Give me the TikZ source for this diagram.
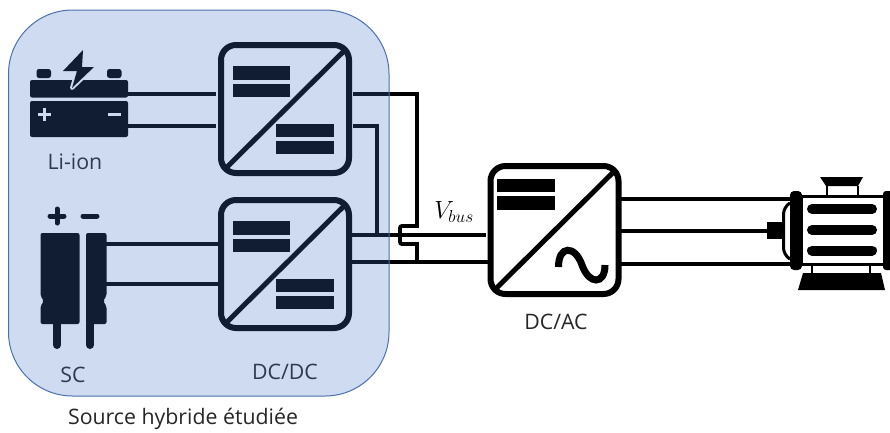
\documentclass[tikz,border=0pt]{standalone}
\usepackage{fontspec}
\setmainfont{Open Sans}
\usepackage{amsmath}
\usepackage{xcolor}
\usepackage{tikz}
\usetikzlibrary{calc}
\definecolor{bleuSource}{HTML}{4472C4}
\definecolor{bordSource}{HTML}{4A70AE}
\tikzset{
	wire/.style={line width=3.8pt},
	conv/.style={draw,line width=6pt,rounded corners=15pt,minimum size=128pt,inner sep=0pt},
	txt/.style={inner sep=0pt,text=black!85,font=\fontsize{21.3}{24}\selectfont}
}

\begin{document}
\begin{tikzpicture}[x=1pt,y=-1pt]
	
	\useasboundingbox (0,0) rectangle (890,432);
	
	%Convertisseurs DC/DC
	\foreach \nom/\yc in {convA/109,convB/264} {
		\begin{scope}[shift={(285,\yc)}]
			\node[conv] (\nom) at (0,0) {};
			\draw[line width=5pt] (-61,61) -- (61,-60);
			\fill (-52,-43) rectangle (5,-29.5);
			\fill (-52,-25.5) rectangle (5,-12);
			\fill (-9,14.5) rectangle (48.5,28);
			\fill (-9,32) rectangle (48.5,45);
		\end{scope}
	}
	
	%Convertisseur DC/AC
	\node[conv] (convC) at (554.5,230) {};
	\draw[line width=5pt] ($(convC)+(-61,61)$) -- ($(convC)+(61,-60)$);
	\fill (497,179) rectangle (555,192);
	\fill (497,196) rectangle (555,210);
	\draw[line width=7pt] (558.5,267) .. controls (558.5,245) and (575,245) .. (582,265) .. controls (589,285) and (605,285) .. (605,265);
	
	%Batterie
	\node[inner sep=0pt,minimum width=98pt,minimum height=57pt] (batt) at (79,108.5) {};
	\fill[rounded corners=2pt] (30,97.5) -- (30,80) -- (128,80) -- (128,97.5) -- cycle;
	\fill[rounded corners=2pt] (30,101) -- (128,101) -- (128,137) -- (30,137) -- cycle;
	\fill[rounded corners=2.5pt] (36.5,78) -- (36.5,69) -- (51,69) -- (51,78) -- cycle;
	\fill[rounded corners=2.5pt] (107,78) -- (107,69) -- (121.5,69) -- (121.5,78) -- cycle;
	\draw[white,line width=4pt,line join=round] (83,50) -- (63,71) -- (77,71) -- (72,88) -- (94,67) -- (82,67) -- cycle;
	\fill (83,50) -- (63,71) -- (77,71) -- (72,88) -- (94,67) -- (82,67) -- cycle;
	\draw[white,line width=3pt] (37.5,114) -- (50.5,114);
	\draw[white,line width=3pt] (44,107.5) -- (44,120.5);
	\draw[white,line width=3pt] (108,114) -- (121,114);
	
	%Supercondensateur
	\node[inner sep=0pt,minimum width=66pt,minimum height=91pt] (sc) at (73,278.5) {};
	\fill[rounded corners=2pt] (79.5,233) -- (40.5,233) -- (40.5,296) -- (44,301) -- (40.5,306) -- (40.5,324) -- (79.5,324) -- cycle;
	\fill[rounded corners=2pt] (86,233) -- (106.5,233) -- (106.5,296) -- (103,301) -- (106.5,306) -- (106.5,324) -- (86,324) -- cycle;
	\draw[line width=8pt,line cap=round] (57,324) -- (57,345);
	\draw[line width=8pt,line cap=round] (90,324) -- (90,345);
	\draw[line width=5pt,line cap=round] (50,216) -- (64,216);
	\draw[line width=5pt,line cap=round] (57,209) -- (57,223);
	\draw[line width=5pt,line cap=round] (83,216) -- (97,216);
	
	%Moteur
	\node[inner sep=0pt,minimum width=83pt,minimum height=70pt] (mot) at (842.5,230) {};
	\draw[line width=3pt] (801,196) rectangle (885,264);
	\foreach \yb in {209,230,250.5} {
		\draw[line width=10pt,line cap=round] (812,\yb) -- (872,\yb);
	}
	\fill[rounded corners=4pt] (790,270) -- (790,191) -- (802,191) -- (802,270) -- cycle;
	\fill[rounded corners=3pt] (883,270) -- (883,191) -- (895,191) -- (895,270) -- cycle;
	\fill (820,177) -- (863,177) -- (858,186) -- (826,186) -- cycle;
	\draw[line width=2.5pt] (827,186) -- (827,195);
	\draw[line width=2.5pt] (858,186) -- (858,195);
	\draw[line width=2.5pt] (812,265) -- (812,274);
	\draw[line width=2.5pt] (870,265) -- (870,274);
	\fill (803,273) -- (881,273) -- (885,290) -- (798,290) -- cycle;
	\draw[line width=3pt,rounded corners=7pt] (790,203) -- (783.5,207) -- (783.5,255) -- (790,259);
	\fill (767,222) rectangle (782,239);
	
	%Points de connexion
	\coordinate (battP) at (128,94);
	\coordinate (battM) at (128,126);
	\coordinate (scP) at (106,244);
	\coordinate (scM) at (106,284);
	\coordinate (aE1) at (216,94);
	\coordinate (aE2) at (216,126);
	\coordinate (bE1) at (218,244);
	\coordinate (bE2) at (218,284);
	\coordinate (aS1) at (353,94);
	\coordinate (aS2) at (353,126);
	\coordinate (bS1) at (352,235);
	\coordinate (bS2) at (352,262);
	\coordinate (cE1) at (486,235);
	\coordinate (cE2) at (488,262);
	\coordinate (coin1) at (417,94);
	\coordinate (coin2) at (377,126);
	\coordinate (nA) at (377,235);
	\coordinate (nB) at (417,262);
	\coordinate (cS1) at (621,199);
	\coordinate (cS2) at (621,231);
	\coordinate (cS3) at (621,264);
	\coordinate (mE1) at (791,199);
	\coordinate (mE2) at (767,231);
	\coordinate (mE3) at (791,264);
	
	%Liaisons
	\draw[wire] (battP) -- (aE1);
	\draw[wire] (battM) -- (aE2);
	\draw[wire] (scP) -- (bE1);
	\draw[wire] (scM) -- (bE2);
	\draw[wire] (aS2) -- (coin2) -- (nA);
	\draw[wire] (bS1) -- (cE1);
	\draw[wire] (bS2) -- (cE2);
	\draw[wire] (aS1) -- (coin1) -- (417,226) [rounded corners=2pt] -- (400,226) -- (400,244) [sharp corners] -- (417,244) -- (nB);
	\draw[wire] (cS1) -- (mE1);
	\draw[wire] (cS2) -- (mE2);
	\draw[wire] (cS3) -- (mE3);
	
	%Textes
	\node[txt] (lLi) at (75,162) {Li-ion};
	\node[txt] (lSC) at (73,375) {SC};
	\node[txt] (lDCa) at (285,372) {DC/DC};
	\node[txt] (lDCb) at (556,322) {DC/AC};
	\node[txt] (lSrc) at (183,419) {Source hybride étudiée};
	\node[inner sep=0pt,font=\fontsize{27}{30}\selectfont] (lV) at (454,212) {$V_{bus}$};
	
	%Source hybride
	\draw[draw=bordSource,line width=1pt,fill=bleuSource,fill opacity=0.26,rounded corners=64pt] (8.5,10) rectangle (389,396);
	
\end{tikzpicture}
\end{document}
